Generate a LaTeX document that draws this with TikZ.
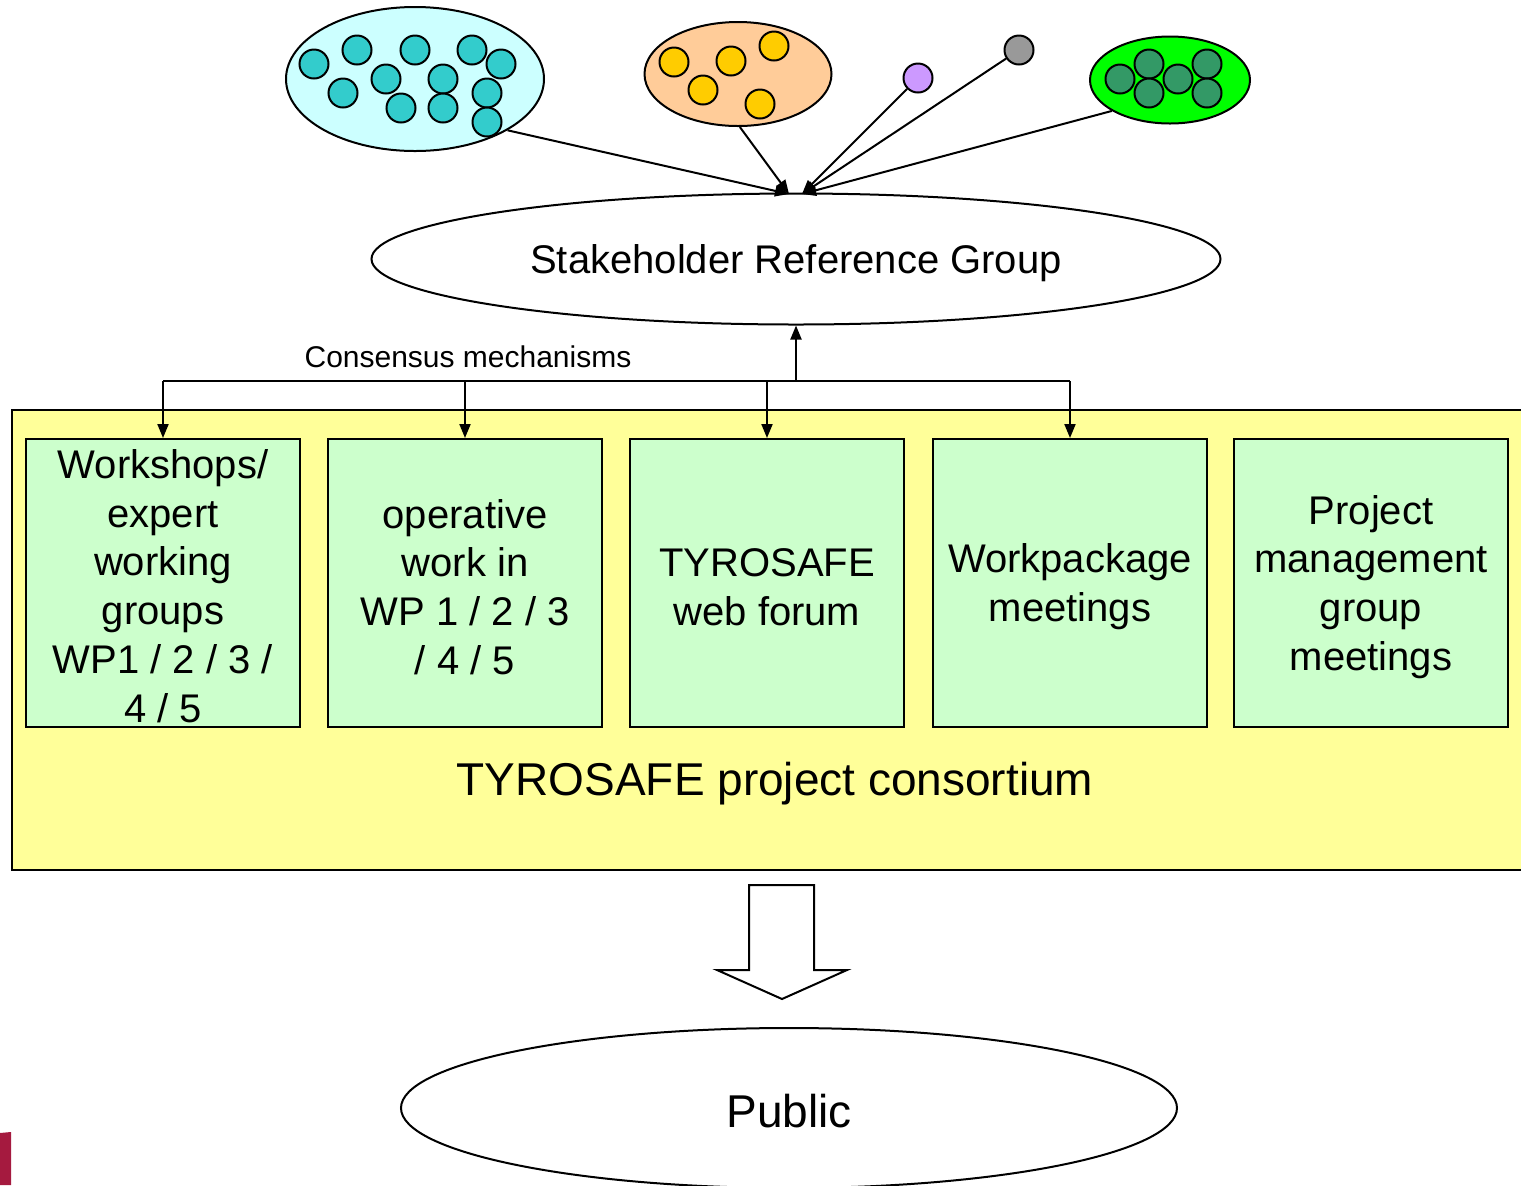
\documentclass[tikz,border=0pt]{standalone}
\usepackage{fontspec}
\setmainfont{Liberation Sans}
\usetikzlibrary{shapes.geometric,arrows.meta}
\definecolor{cyanbg}{HTML}{CCFFFF}
\definecolor{teal}{HTML}{33CCCC}
\definecolor{orangebg}{HTML}{FFCC99}
\definecolor{goldc}{HTML}{FFCC00}
\definecolor{purplec}{HTML}{CC99FF}
\definecolor{greyc}{HTML}{999999}
\definecolor{greenbg}{HTML}{00FF00}
\definecolor{dgreen}{HTML}{339966}
\definecolor{boxgreen}{HTML}{CCFFCC}
\definecolor{consy}{HTML}{FFFF99}
\definecolor{redpatch}{HTML}{A51A3F}
\tikzset{
  line/.style={draw=black,line width=1pt},
  dot/.style={circle,draw=black,line width=1pt,minimum size=14.5pt,inner sep=0pt},
  group/.style={ellipse,draw=black,line width=1pt,inner sep=0pt},
  wpbox/.style={rectangle,draw=black,line width=1pt,fill=boxgreen,minimum width=137pt,minimum height=144pt,inner sep=0pt},
  boxtext/.style={align=center,font=\fontsize{20}{24.4}\selectfont},
  arr/.style={line,-{Triangle[length=7pt,width=5.5pt]}},
}
\begin{document}
\begin{tikzpicture}[x=0.5pt,y=-0.5pt]
\useasboundingbox (0,0) rectangle (1521,1185);
% red patch
\fill[redpatch] (0,1133) -- (11,1132) -- (11,1185) -- (0,1185) -- cycle;

% stakeholder groups
\node[group,fill=cyanbg,minimum width=129pt,minimum height=72pt] (cyan) at (415,79) {};
\foreach \p [count=\i] in {(314,64),(357,50),(415,50),(472,50),(501,64),(343,93),(386,79),(443,79),(401,108),(443,108),(487,93),(487,122)}
  \node[dot,fill=teal] (c\i) at \p {};
\node[group,fill=orangebg,minimum width=93.5pt,minimum height=52pt] (orange) at (738,74) {};
\foreach \p [count=\i] in {(674,62),(731,61),(774,46),(703,90),(760,104)}
  \node[dot,fill=goldc] (o\i) at \p {};
\node[dot,fill=purplec] (purple) at (918,78) {};
\node[dot,fill=greyc] (grey) at (1019,50) {};
\node[group,fill=greenbg,minimum width=80pt,minimum height=43.5pt] (green) at (1170,80) {};
\foreach \p [count=\i] in {(1120,79),(1149,64),(1149,93),(1178,79),(1207,64),(1207,93)}
  \node[dot,fill=dgreen] (g\i) at \p {};

% stakeholder reference group
\node[group,fill=white,minimum width=424.5pt,minimum height=65.5pt] (srg) at (796,259) {};
\node[font=\fontsize{20}{24}\selectfont] (srgt) at (796,263) {Stakeholder Reference Group};
\coordinate (t1) at (789,194);
\coordinate (t2) at (802,194);
\draw[arr] (cyan.-29) -- (t1);
\draw[arr] (orange.-88) -- (t1);
\draw[arr] (purple) -- (t2);
\draw[arr] (grey) -- (t2);
\draw[arr] (green.208) -- (t2);

% consortium
\draw[line,fill=consy] (12,410) rectangle (1540,870);
\node[font=\fontsize{23}{27}\selectfont] (cons) at (775,784) {TYROSAFE project consortium};

\node[wpbox] (b1) at (163,583) {};
\node[wpbox] (b2) at (465,583) {};
\node[wpbox] (b3) at (767,583) {};
\node[wpbox] (b4) at (1070,583) {};
\node[wpbox] (b5) at (1371,583) {};
\node[boxtext] at (163,586) {Workshops/\\expert\\working\\groups\\WP1 / 2 / 3 /\\4 / 5};
\node[boxtext] at (465,587) {operative\\work in\\WP 1 / 2 / 3\\/ 4 / 5};
\node[boxtext] at (767,587) {TYROSAFE\\web forum};
\node[boxtext] at (1070,587) {Workpackage\\meetings};
\node[boxtext] at (1371,587) {Project\\management\\group\\meetings};

% consensus mechanisms
\coordinate (hub) at (796,381);
\node[font=\fontsize{15}{18}\selectfont] (cm) at (468,357) {Consensus mechanisms};
\draw[arr] (hub) -- (srg.south);
\draw[line] (b1.north |- hub) -- (b4.north |- hub);
\foreach \b in {b1,b2,b3,b4}
  \draw[arr] (\b.north |- hub) -- (\b.north);

% block arrow
\draw[line,fill=white] (749,885) -- (814,885) -- (814,970) -- (847,970) -- (782,999) -- (717,970) -- (749,970) -- cycle;

% public
\node[group,fill=white,minimum width=388pt,minimum height=80pt] (public) at (789,1108) {};
\node[font=\fontsize{23}{27}\selectfont] (publict) at (789,1111) {Public};
\end{tikzpicture}
\end{document}
